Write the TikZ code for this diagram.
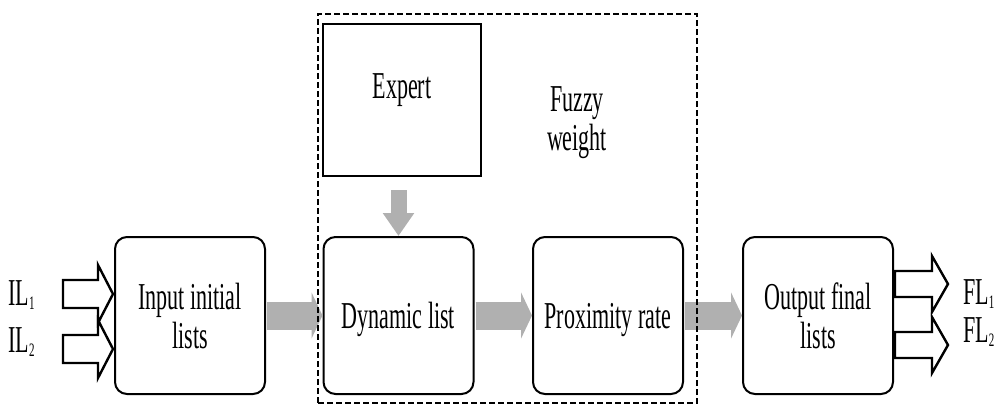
\documentclass[tikz,border=0pt]{standalone}
\usepackage{fontspec}
\setmainfont{Liberation Serif}[FakeStretch=0.58]
\usetikzlibrary{arrows.meta,calc}
\definecolor{arrowgray}{RGB}{176,176,176}
\newcommand{\smallsub}[1]{\raisebox{-4pt}{\fontsize{19}{19}\selectfont #1}}
\begin{document}
\begin{tikzpicture}[x=1pt,y=-1pt,
  every node/.style={font=\fontsize{38}{39}\selectfont, inner sep=0pt},
  procbox/.style={draw, line width=2pt, rounded corners=12pt, minimum width=150pt, minimum height=157pt, align=center},
  oneline/.style={text height=25pt, text depth=0pt},
  expertbox/.style={draw, line width=2.2pt, minimum width=158pt, minimum height=152pt},
  grouplbox/.style={draw, line width=1.4pt, dash pattern=on 6pt off 3pt, minimum width=379pt, minimum height=389pt},
  grayarrow/.style={draw=arrowgray, line width=28pt, -{Triangle[length=11pt,width=46pt,fill=arrowgray]}},
  downarrow/.style={draw=arrowgray, line width=16pt, -{Triangle[length=23pt,width=30pt,fill=arrowgray]}},
  hollowarrow/.style={draw, line width=2.4pt, line join=miter}
]
\useasboundingbox (0,0) rectangle (998,405);

% process boxes
\node[procbox] (in) at (190,315.5) {Input initial\\lists};
\node[procbox, oneline] (dyn) at (398.5,315.5) {Dynamic list};
\node[procbox, oneline] (prox) at (608,315.5) {Proximity rate};
\node[procbox] (out) at (818,315.5) {Output final\\lists};

% expert box and labels
\node[expertbox] (expert) at (402,100) {};
\node[anchor=base] (experttext) at (402,98) {Expert};
\node[align=center] (fuzzy) at (577,123) {Fuzzy\\weight};

% gray arrows
\draw[grayarrow, shorten <=1pt] (in.east) -- (dyn.west);
\draw[grayarrow, shorten <=1pt] (dyn.east) -- (prox.west);
\draw[grayarrow, shorten <=1pt] (prox.east) -- (out.west);
\draw[downarrow, shorten <=13pt] (dyn.north |- expert.south) -- (dyn.north);

% input labels and hollow arrows
\node[anchor=base west] (il1) at (8,305) {IL\smallsub{1}};
\node[anchor=base west] (il2) at (8,352) {IL\smallsub{2}};
\coordinate (ila) at (63,294);
\coordinate (ilb) at (63,349);
\draw[hollowarrow] (ila) ++(0,-14) -- ++(35,0) -- ++(0,-15) -- ++(15,29) -- ++(-15,29) -- ++(0,-15) -- ++(-35,0) -- cycle;
\draw[hollowarrow] (ilb) ++(0,-14) -- ++(35,0) -- ++(0,-15) -- ++(15,29) -- ++(-15,29) -- ++(0,-15) -- ++(-35,0) -- cycle;

% output hollow arrows and labels
\coordinate (fla) at (895,284);
\coordinate (flb) at (895,345);
\draw[hollowarrow] (fla) ++(0,-13) -- ++(37,0) -- ++(0,-15) -- ++(16,28) -- ++(-16,28) -- ++(0,-15) -- ++(-37,0) -- cycle;
\draw[hollowarrow] (flb) ++(0,-13) -- ++(37,0) -- ++(0,-15) -- ++(16,28) -- ++(-16,28) -- ++(0,-15) -- ++(-37,0) -- cycle;
\node[anchor=base west] (fl1) at (963,304) {FL\smallsub{1}};
\node[anchor=base west] (fl2) at (963,342) {FL\smallsub{2}};

% dashed group
\node[grouplbox] (group) at (507.5,208.5) {};
\end{tikzpicture}
\end{document}
